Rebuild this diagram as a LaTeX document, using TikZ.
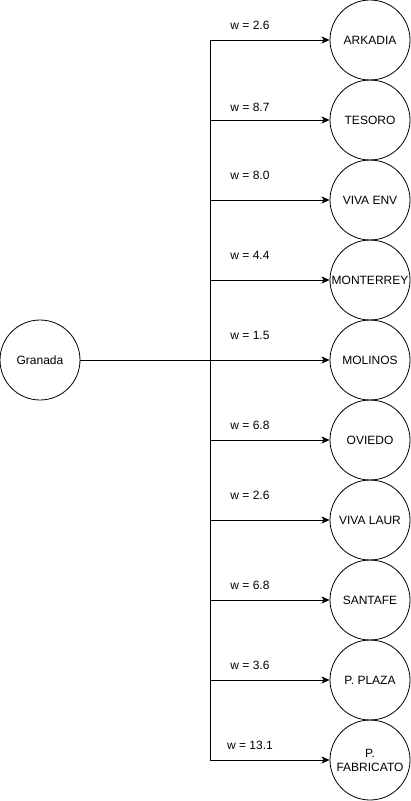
\documentclass[tikz,border=0pt]{standalone}
\usepackage{fontspec}
\setmainfont{Liberation Sans}
\usetikzlibrary{arrows.meta}
\begin{document}
\begin{tikzpicture}[x=1pt,y=-1pt,
  station/.style={draw,circle,minimum size=80pt,inner sep=0pt,line width=0.8pt,font=\fontsize{12}{14}\selectfont,align=center},
  wlabel/.style={font=\fontsize{12}{14}\selectfont,inner sep=0pt},
  link/.style={line width=0.8pt,-{Stealth[length=8pt,width=7pt,inset=2pt]}},
  trunk/.style={line width=0.8pt}]
\useasboundingbox (0,0) rectangle (411,801);
\node[station] (g) at (40,360) {Granada};
\foreach \i/\y/\name/\w/\ly in {1/40/ARKADIA/2.6/25, 2/120/TESORO/8.7/107, 3/200/VIVA ENV/8.0/175, 4/280/MONTERREY/4.4/255, 5/360/MOLINOS/1.5/335, 6/440/OVIEDO/6.8/425, 7/520/VIVA LAUR/2.6/495, 8/600/SANTAFE/6.8/585, 9/680/P. PLAZA/3.6/665}{
  \node[station] (n\i) at (370,\y) {\name};
  \coordinate (t\i) at (210,\y);
  \node[wlabel] (l\i) at (250,\ly) {w = \w};
}
\node[station] (n10) at (370,760) {P.\\FABRICATO};
\coordinate (t10) at (210,760);
\node[wlabel] (l10) at (250,745) {w = 13.1};
\draw[trunk] (t1) -- (t10);
\draw[trunk] (g) -- (t5);
\foreach \i in {1,...,10}{
  \draw[link] (t\i) -- (n\i.west);
}
\end{tikzpicture}
\end{document}
